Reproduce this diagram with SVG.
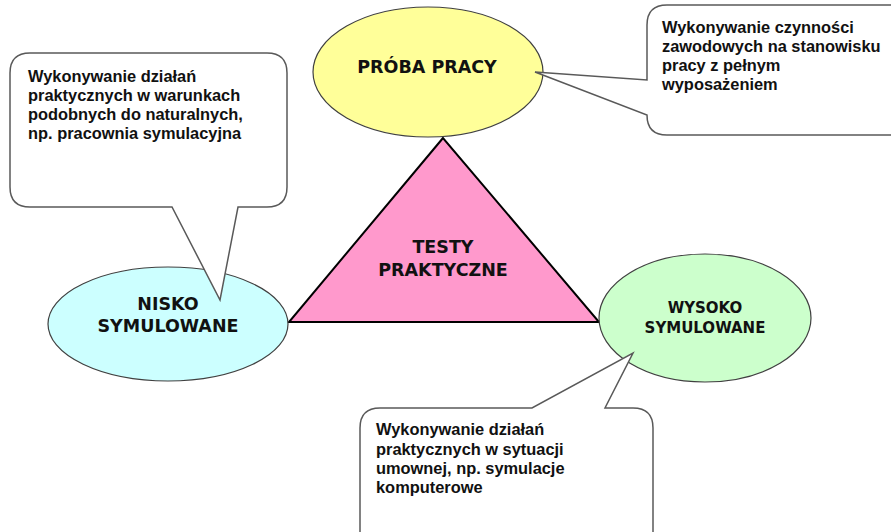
<svg xmlns="http://www.w3.org/2000/svg" width="891" height="532" viewBox="0 0 891 532">
<style>
.ell{stroke:#404040;stroke-width:1.2}
.tri{fill:#FF99CC;stroke:#000;stroke-width:2;stroke-linejoin:miter}
.call{fill:#fff;stroke:#595959;stroke-width:1.5;stroke-linejoin:miter}
.title{font-family:"DejaVu Sans",Verdana,sans-serif;font-weight:bold;fill:#111;text-anchor:middle}
.ct{font-family:"Liberation Sans",Arial,sans-serif;font-weight:bold;font-size:16.4px;fill:#111}
</style>
<rect width="891" height="532" fill="#fff"/>
<g id="testy">
<polygon class="tri" points="443,138 289,322 599,322"/>
<text class="title" font-size="17.5" x="443" y="253">TESTY</text>
<text class="title" font-size="17.5" x="443" y="276">PRAKTYCZNE</text>
</g>
<g id="proba">
<ellipse class="ell" cx="428" cy="72" rx="115" ry="65" fill="#FFFF99"/>
<text class="title" font-size="17.5" x="427" y="73">PRÓBA PRACY</text>
</g>
<g id="nisko">
<ellipse class="ell" cx="168" cy="324" rx="120" ry="57" fill="#CCFFFF"/>
<text class="title" font-size="17.5" x="168" y="310">NISKO</text>
<text class="title" font-size="17.5" x="168" y="332">SYMULOWANE</text>
</g>
<g id="wysoko">
<ellipse class="ell" cx="705" cy="318" rx="106" ry="64" fill="#CCFFCC"/>
<text class="title" font-size="15" x="705" y="313">WYSOKO</text>
<text class="title" font-size="15" x="705" y="333">SYMULOWANE</text>
</g>
<g id="connectors">
<g id="callout-left">
<path class="call" d="M30,53 H267 Q287,53 287,73 V187 Q287,207 267,207 H238 L220,300 L172,207 H30 Q10,207 10,187 V73 Q10,53 30,53 Z"/>
<text class="ct" x="28" y="82">Wykonywanie działań</text>
<text class="ct" x="28" y="101">praktycznych w warunkach</text>
<text class="ct" x="28" y="120">podobnych do naturalnych,</text>
<text class="ct" x="28" y="139">np. pracownia symulacyjna</text>
</g>
<g id="callout-top">
<path class="call" d="M667,5 H905 V135 H667 Q647,135 647,115 L535,72 L647,80 V25 Q647,5 667,5 Z"/>
<text class="ct" x="662" y="33">Wykonywanie czynności</text>
<text class="ct" x="662" y="52">zawodowych na stanowisku</text>
<text class="ct" x="662" y="71">pracy z pełnym</text>
<text class="ct" x="662" y="90">wyposażeniem</text>
</g>
<g id="callout-bottom">
<path class="call" d="M380,408 H532 L633,353 L605,408 H633 Q653,408 653,428 V545 H360 V428 Q360,408 380,408 Z"/>
<text class="ct" x="376" y="435">Wykonywanie działań</text>
<text class="ct" x="376" y="455">praktycznych w sytuacji</text>
<text class="ct" x="376" y="474">umownej, np. symulacje</text>
<text class="ct" x="376" y="493">komputerowe</text>
</g>
</g>
</svg>
